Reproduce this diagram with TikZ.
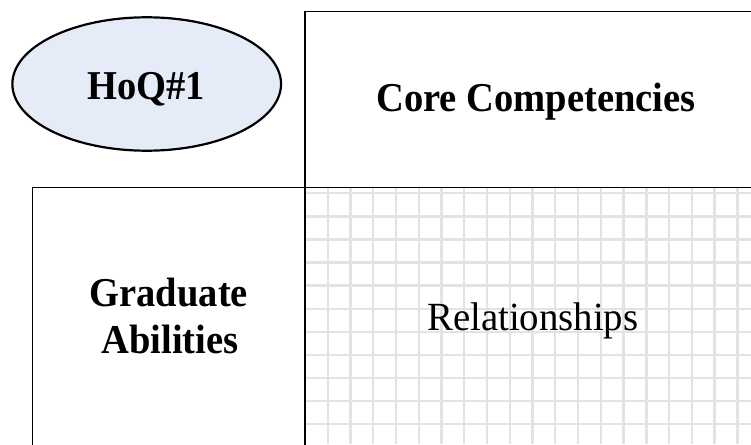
\documentclass[tikz,border=0pt]{standalone}
\usepackage{fontspec}
\setmainfont{Liberation Serif}
\usetikzlibrary{shapes.geometric}
\definecolor{gridgray}{RGB}{227,227,227}
\definecolor{ovalfill}{RGB}{230,236,247}
% slightly condensed lettering
\newcommand\condensedtxt[2]{\scalebox{#1}[1]{#2}}
\begin{document}
\begin{tikzpicture}[x=1pt,y=-1pt,
  boxframe/.style={draw=black,line width=1.4pt,rectangle,inner sep=0pt},
  bigtext/.style={font=\fontsize{41}{46.7}\selectfont\bfseries,inner sep=0pt,anchor=base},
  plaintext/.style={font=\fontsize{40}{46.7}\selectfont,inner sep=0pt,anchor=base},
  gridline/.style={draw=gridgray,line width=2.3pt}]
\useasboundingbox (0,0) rectangle (751,444);
\clip (0,0) rectangle (751,444);

% light grid filling the relationship matrix
\begin{scope}
  \clip (305,187.5) rectangle (751,444);
  \foreach \k in {0,...,10}
    \draw[gridline] (305,193.3+23.07*\k) -- (751,193.3+23.07*\k);
  \foreach \k in {0,...,18}
    \draw[gridline] (327.7+22.76*\k,187.5) -- (327.7+22.76*\k,444);
\end{scope}

% room frames
\node[boxframe,minimum width=462pt,minimum height=175.8pt] (core) at (536,99.6) {};
\node[boxframe,minimum width=272.7pt,minimum height=290pt] (grad) at (168.65,332.7) {};

% title oval
\node[ellipse,draw=black,line width=2.2pt,fill=ovalfill,minimum width=268.7pt,minimum height=133.4pt,inner sep=0pt] (hoq) at (146.7,84) {};

% labels
\node[bigtext] (hoqlbl) at (146.2,99) {\condensedtxt{0.94}{HoQ\#1}};
\node[bigtext] (corelbl) at (536,111.7) {\condensedtxt{0.94}{Core Competencies}};
\node[bigtext] (gradlblA) at (168.8,306.7) {\condensedtxt{0.94}{Graduate}};
\node[bigtext] (gradlblB) at (170,353.3) {\condensedtxt{0.94}{Abilities}};
\node[plaintext] (rellbl) at (532.8,330.7) {\condensedtxt{0.97}{Relationships}};
\end{tikzpicture}
\end{document}
